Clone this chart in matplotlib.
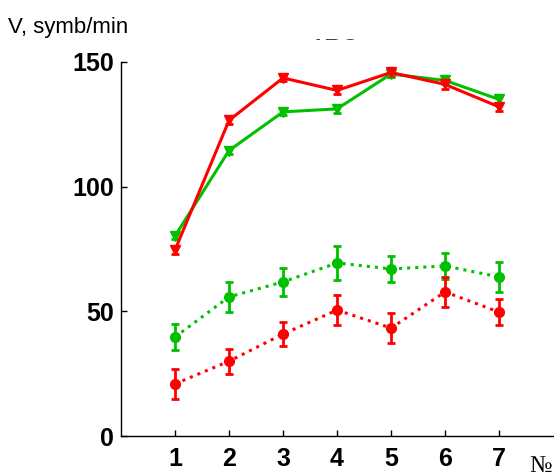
import matplotlib
matplotlib.use('Agg')
import matplotlib.pyplot as plt
from matplotlib.transforms import Bbox

x = [1, 2, 3, 4, 5, 6, 7]

# solid lines (triangles)
green_top = [80.2, 114.5, 130.0, 131.2, 145.2, 142.6, 135.0]
green_top_err = [1.2, 1.5, 1.2, 1.5, 1.2, 1.3, 1.3]
red_top = [74.6, 126.6, 143.6, 138.6, 145.8, 141.0, 132.0]
red_top_err = [1.5, 1.3, 1.2, 1.5, 1.5, 1.8, 1.6]

# dotted lines (circles)
green_low = [39.7, 55.8, 61.8, 69.4, 67.0, 68.2, 63.8]
green_low_err = [5.3, 6.0, 5.7, 6.8, 5.1, 5.3, 6.0]
red_low = [20.9, 30.0, 40.9, 50.5, 43.3, 57.8, 49.7]
red_low_err = [6.0, 5.0, 5.0, 6.0, 6.0, 6.0, 5.3]

GREEN = '#00c000'
RED = '#ff0000'

W, H = 554, 476
fig = plt.figure(figsize=(W / 100, H / 100), dpi=100)
ax = fig.add_axes([121 / W, 1 - 436 / H, 0.78, (436 - 62) / H])

ax.errorbar(x, green_top, yerr=green_top_err, color=GREEN, lw=2.2, marker='v',
            ms=7, capsize=3, elinewidth=2, capthick=2)
ax.errorbar(x, red_top, yerr=red_top_err, color=RED, lw=2.2, marker='v',
            ms=7, capsize=3, elinewidth=2, capthick=2)
ax.errorbar(x, green_low, yerr=green_low_err, color=GREEN, lw=2.2, ls=':',
            marker='o', ms=7, capsize=3, elinewidth=2, capthick=2)
ax.errorbar(x, red_low, yerr=red_low_err, color=RED, lw=2.2, ls=':',
            marker='o', ms=7, capsize=3, elinewidth=2, capthick=2)

ax.set_xlim(0, 8)
ax.set_ylim(0, 150)
ax.set_xticks(x)
ax.set_yticks([0, 50, 100, 150])
for s in ('top', 'right'):
    ax.spines[s].set_visible(False)
for s in ('left', 'bottom'):
    ax.spines[s].set_linewidth(1)
ax.tick_params(direction='in', length=4, width=1)
ax.tick_params(axis='y', pad=5)
ax.tick_params(axis='x', pad=8)
for lab in ax.get_xticklabels() + ax.get_yticklabels():
    lab.set_fontfamily('Liberation Sans')
    lab.set_fontweight('bold')
    lab.set_fontsize(18)

fig.text(8 / W, 1 - 33 / H, 'V, symb/min', fontsize=16,
         family='Liberation Sans', ha='left', va='baseline')
fig.text(529 / W, 1 - 472 / H, '№', fontsize=17,
         family='Liberation Serif', ha='left', va='baseline')

# title hidden behind the axis label, only its lower edge shows
t = fig.text(335 / W, 1 - 40 / H, 'ТБС', fontsize=17, fontweight='bold',
             family='Liberation Sans', ha='center', va='baseline', color='#444444')
t.set_clip_box(Bbox([[0, H - 40.5], [W, H - 38.5]]))

fig.savefig('out.png', dpi=100)
